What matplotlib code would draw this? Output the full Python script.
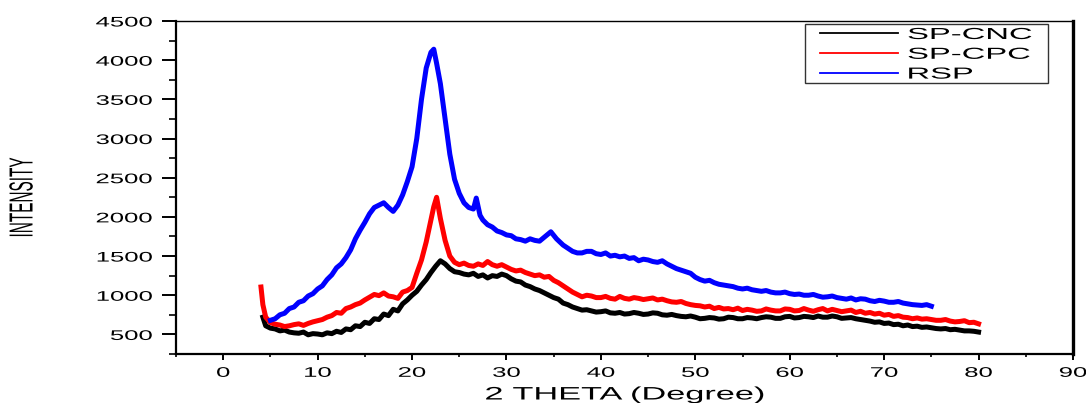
import matplotlib
matplotlib.use('Agg')
import matplotlib.pyplot as plt
from matplotlib import patheffects
from matplotlib.transforms import Affine2D
from matplotlib.patches import Rectangle
from matplotlib.ticker import MultipleLocator

# SP-CNC (black)
cnc_x = [4.2, 4.5, 5, 5.5, 6, 6.5, 7, 7.5, 8, 8.5, 9, 9.5, 10, 10.5, 11, 11.5, 12, 12.5, 13, 13.5,
         14, 14.5, 15, 15.5, 16, 16.5, 17, 17.5, 18, 18.5, 19, 19.5, 20, 20.5, 21, 21.5, 22, 22.5, 23, 23.5,
         24, 24.5, 25, 25.5, 26, 26.5, 27, 27.5, 28, 28.5, 29, 29.5, 30, 30.5, 31, 31.5, 32, 32.5, 33, 33.5,
         34, 34.5, 35, 35.5, 36, 36.5, 37, 37.5, 38, 38.5, 39, 39.5, 40, 40.5, 41, 41.5, 42, 42.5, 43, 43.5,
         44, 44.5, 45, 45.5, 46, 46.5, 47, 47.5, 48, 48.5, 49, 49.5, 50, 50.5, 51, 51.5, 52, 52.5, 53, 53.5,
         54, 54.5, 55, 55.5, 56, 56.5, 57, 57.5, 58, 58.5, 59, 59.5, 60, 60.5, 61, 61.5, 62, 62.5, 63, 63.5,
         64, 64.5, 65, 65.5, 66, 66.5, 67, 67.5, 68, 68.5, 69, 69.5, 70, 70.5, 71, 71.5, 72, 72.5, 73, 73.5,
         74, 74.5, 75, 75.5, 76, 76.5, 77, 77.5, 78, 78.5, 79, 79.5, 80]
cnc_y = [720, 610, 580, 570, 545, 555, 530, 520, 515, 530, 495, 510, 505, 495, 520, 510, 540, 525, 570, 560,
         610, 600, 655, 640, 700, 690, 760, 740, 820, 800, 890, 940, 1000, 1050, 1130, 1200, 1290, 1370, 1440, 1400,
         1340, 1300, 1290, 1270, 1260, 1280, 1240, 1260, 1220, 1250, 1240, 1270, 1250, 1210, 1180, 1170, 1130, 1110, 1080, 1060,
         1030, 1000, 970, 950, 900, 880, 850, 830, 810, 815, 800, 785, 790, 800, 775, 770, 780, 760, 765, 780,
         770, 755, 760, 775, 770, 750, 745, 755, 740, 730, 725, 735, 720, 700, 705, 715, 710, 695, 700, 720,
         715, 700, 700, 715, 710, 700, 715, 725, 720, 705, 705, 725, 730, 710, 715, 730, 725, 715, 735, 720,
         720, 735, 725, 705, 710, 715, 700, 690, 680, 670, 655, 660, 640, 645, 625, 630, 610, 620, 600, 605,
         590, 595, 585, 575, 570, 575, 560, 565, 555, 545, 545, 540, 530]

# SP-CPC (red)
cpc_x = [4, 4.2, 4.5, 5, 5.5, 6, 6.5, 7, 7.5, 8, 8.5, 9, 9.5, 10, 10.5, 11, 11.5, 12, 12.5, 13,
         13.5, 14, 14.5, 15, 15.5, 16, 16.5, 17, 17.5, 18, 18.5, 19, 19.5, 20, 20.5, 21, 21.5, 22, 22.3, 22.6,
         23, 23.5, 24, 24.5, 25, 25.5, 26, 26.5, 27, 27.5, 28, 28.5, 29, 29.5, 30, 30.5, 31, 31.5, 32, 32.5,
         33, 33.5, 34, 34.5, 35, 35.5, 36, 36.5, 37, 37.5, 38, 38.5, 39, 39.5, 40, 40.5, 41, 41.5, 42, 42.5,
         43, 43.5, 44, 44.5, 45, 45.5, 46, 46.5, 47, 47.5, 48, 48.5, 49, 49.5, 50, 50.5, 51, 51.5, 52, 52.5,
         53, 53.5, 54, 54.5, 55, 55.5, 56, 56.5, 57, 57.5, 58, 58.5, 59, 59.5, 60, 60.5, 61, 61.5, 62, 62.5,
         63, 63.5, 64, 64.5, 65, 65.5, 66, 66.5, 67, 67.5, 68, 68.5, 69, 69.5, 70, 70.5, 71, 71.5, 72, 72.5,
         73, 73.5, 74, 74.5, 75, 75.5, 76, 76.5, 77, 77.5, 78, 78.5, 79, 79.5, 80]
cpc_y = [1105, 880, 720, 650, 630, 620, 600, 610, 625, 635, 615, 640, 660, 675, 690, 720, 740, 780, 770, 830,
         850, 880, 900, 940, 975, 1010, 995, 1030, 990, 980, 960, 1040, 1060, 1100, 1280, 1450, 1680, 1960, 2130, 2250,
         1980, 1700, 1500, 1420, 1390, 1410, 1380, 1370, 1400, 1380, 1430, 1390, 1370, 1390, 1360, 1330, 1310, 1320, 1290, 1270,
         1250, 1260, 1230, 1240, 1190, 1160, 1120, 1080, 1040, 1010, 980, 1000, 990, 970, 970, 985, 960, 950, 985, 960,
         950, 970, 960, 945, 955, 965, 940, 950, 930, 915, 910, 920, 895, 880, 870, 865, 850, 860, 830, 845,
         825, 830, 815, 835, 805, 820, 810, 795, 800, 825, 810, 800, 800, 825, 820, 800, 805, 830, 810, 795,
         815, 830, 800, 820, 805, 790, 800, 810, 780, 795, 770, 780, 760, 770, 745, 755, 730, 740, 720, 715,
         700, 710, 695, 700, 690, 680, 680, 690, 670, 660, 665, 675, 650, 655, 635]

# RSP (blue)
rsp_x = [5, 5.5, 6, 6.5, 7, 7.5, 8, 8.5, 9, 9.5, 10, 10.5, 11, 11.5, 12, 12.5, 13, 13.5, 14, 14.5,
         15, 15.5, 16, 16.5, 17, 17.5, 18, 18.5, 19, 19.5, 20, 20.5, 21, 21.5, 22, 22.3, 22.6, 23, 23.5, 24,
         24.5, 25, 25.5, 26, 26.5, 26.8, 27.2, 27.5, 28, 28.5, 29, 29.5, 30, 30.5, 31, 31.5, 32, 32.5, 33, 33.5,
         34, 34.7, 35.3, 36, 36.5, 37, 37.5, 38, 38.5, 39, 39.5, 40, 40.5, 41, 41.5, 42, 42.5, 43, 43.5, 44,
         44.5, 45, 45.5, 46, 46.5, 47, 47.5, 48, 48.5, 49, 49.5, 50, 50.5, 51, 51.5, 52, 52.5, 53, 53.5, 54,
         54.5, 55, 55.5, 56, 56.5, 57, 57.5, 58, 58.5, 59, 59.5, 60, 60.5, 61, 61.5, 62, 62.5, 63, 63.5, 64,
         64.5, 65, 65.5, 66, 66.5, 67, 67.5, 68, 68.5, 69, 69.5, 70, 70.5, 71, 71.5, 72, 72.5, 73, 73.5, 74,
         74.5, 75]
rsp_y = [680, 700, 750, 770, 830, 850, 910, 930, 990, 1020, 1080, 1120, 1200, 1260, 1350, 1400, 1480, 1580, 1720, 1830,
         1930, 2040, 2120, 2150, 2180, 2120, 2070, 2150, 2280, 2450, 2640, 3000, 3500, 3900, 4100, 4140, 3960, 3700, 3250, 2800,
         2480, 2300, 2180, 2120, 2100, 2240, 2020, 1960, 1900, 1870, 1820, 1800, 1770, 1760, 1720, 1710, 1690, 1720, 1700, 1690,
         1740, 1810, 1720, 1640, 1600, 1560, 1540, 1540, 1560, 1560, 1530, 1520, 1540, 1500, 1510, 1490, 1500, 1470, 1480, 1440,
         1460, 1450, 1430, 1420, 1440, 1400, 1370, 1340, 1320, 1300, 1280, 1230, 1200, 1180, 1190, 1160, 1140, 1130, 1120, 1110,
         1090, 1080, 1090, 1070, 1060, 1050, 1060, 1040, 1030, 1030, 1040, 1020, 1010, 1015, 1000, 1000, 1010, 990, 975, 980,
         990, 970, 960, 950, 965, 940, 955, 950, 930, 920, 935, 925, 910, 910, 920, 900, 890, 880, 875, 870,
         880, 860]

labels = ['SP-CNC', 'SP-CPC', 'RSP']
colors = ['black', 'red', 'blue']
x_ticks = [0, 10, 20, 30, 40, 50, 60, 70, 80, 90]
y_ticks = [500, 1000, 1500, 2000, 2500, 3000, 3500, 4000, 4500]

FONT = 'Liberation Sans'


class Stretch(patheffects.AbstractPathEffect):
    # widen (or narrow) glyphs along the text direction, like the original's stretched font
    def __init__(self, sx, anchor='center'):
        super().__init__()
        self.sx = sx
        self.anchor = anchor

    def draw_path(self, renderer, gc, tpath, affine, rgbFace=None):
        ext = tpath.get_extents()
        if self.anchor == 'left':
            px = ext.x0
        elif self.anchor == 'right':
            px = ext.x1
        else:
            px = (ext.x0 + ext.x1) / 2
        t = Affine2D().translate(-px, 0).scale(self.sx, 1).translate(px, 0) + affine
        renderer.draw_path(gc, tpath, t, rgbFace)


fig = plt.figure(figsize=(10.86, 4.03), dpi=100)
ax = fig.add_axes([176 / 1086, 1 - 354 / 403, (1073 - 176) / 1086, (354 - 21) / 403])

lines = []
for xs, ys, lab, col in zip([cnc_x, cpc_x, rsp_x], [cnc_y, cpc_y, rsp_y], labels, colors):
    ln, = ax.plot(xs, ys, color=col, lw=3.6, label=lab, solid_joinstyle='round')
    lines.append(ln)

ax.set_xlim(-5, 90)
ax.set_ylim(250, 4500)
ax.set_xticks(x_ticks)
ax.set_yticks(y_ticks)
ax.xaxis.set_minor_locator(MultipleLocator(5))
ax.yaxis.set_minor_locator(MultipleLocator(250))

ax.tick_params(axis='y', which='major', length=10, width=1.4, pad=7, direction='out')
ax.tick_params(axis='y', which='minor', length=5, width=1.2, direction='out')
ax.tick_params(axis='x', which='major', length=4.5, width=1.4, pad=4, direction='out')
ax.tick_params(axis='x', which='minor', length=2.5, width=1.2, direction='out')

ax.spines['left'].set_linewidth(1.6)
ax.spines['bottom'].set_linewidth(1.6)
ax.spines['right'].set_linewidth(2.4)
ax.spines['top'].set_linewidth(1.0)

for lbl in ax.get_xticklabels():
    lbl.set_fontfamily(FONT)
    lbl.set_fontsize(10)
    lbl.set_path_effects([Stretch(1.85, 'center')])
for lbl in ax.get_yticklabels():
    lbl.set_fontfamily(FONT)
    lbl.set_fontsize(10)
    lbl.set_path_effects([Stretch(1.85, 'right')])

fig.text(624.5 / 1086, 1 - 395 / 403, '2 THETA (Degree)', ha='center', va='center',
         fontsize=13, fontfamily=FONT, path_effects=[Stretch(1.9)])
fig.text(24 / 1086, 1 - 198 / 403, 'INTENSITY', ha='center', va='center', rotation=90,
         fontsize=24, fontfamily=FONT, path_effects=[Stretch(0.46)])

leg = ax.legend(handles=lines, loc='upper left', bbox_to_anchor=(820 / 1086, 1 - 27 / 403),
                bbox_transform=fig.transFigure, frameon=False, borderpad=0, borderaxespad=0,
                handlelength=4.9, handletextpad=0.6, labelspacing=0.3,
                prop={'family': FONT, 'size': 11.5})
for t in leg.get_texts():
    t.set_path_effects([Stretch(2.05, 'left')])
for ln in leg.get_lines():
    ln.set_linewidth(1.3)

ax.add_patch(Rectangle((805 / 1086, 1 - 83 / 403), 243 / 1086, 59 / 403, transform=fig.transFigure,
                       fill=False, lw=1.0, edgecolor='#333333', clip_on=False))

fig.savefig('out.png', dpi=100)
